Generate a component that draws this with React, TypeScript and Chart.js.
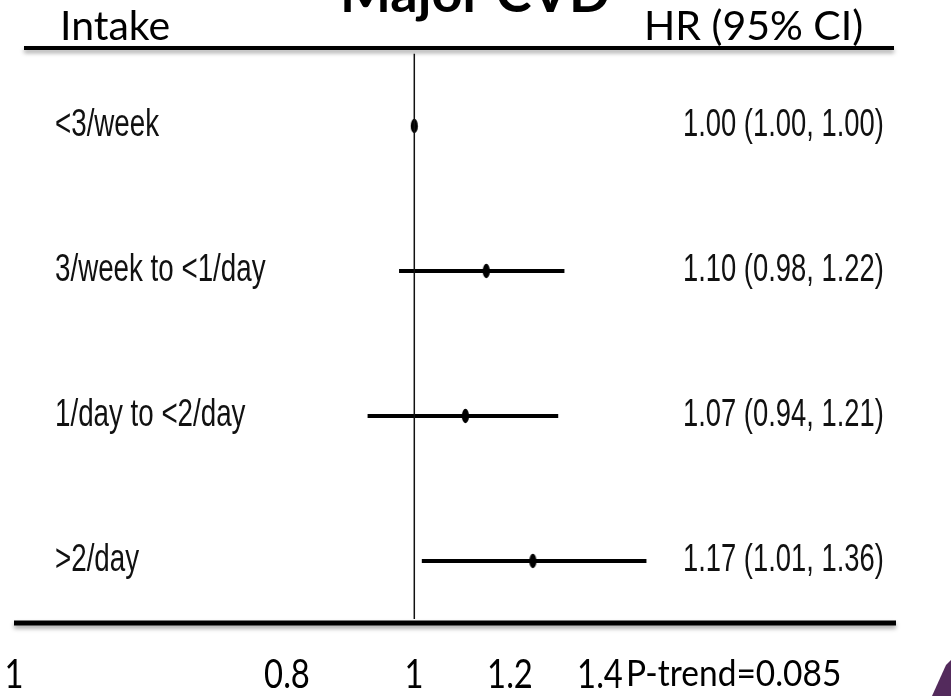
import React, { useEffect, useRef } from "react";
import { Chart, registerables } from "chart.js";

Chart.register(...registerables);

// ---- data ----
const title = "Major CVD";
const leftHeader = "Intake";
const rightHeader = "HR (95% CI)";
const categories = ["<3/week", "3/week to <1/day", "1/day to <2/day", ">2/day"];
const hr = [1.0, 1.1, 1.07, 1.17];
const ciLow = [1.0, 0.98, 0.94, 1.01];
const ciHigh = [1.0, 1.22, 1.21, 1.36];
const bottomTickLabels = ["1", "0.8", "1", "1.2", "1.4"];
const pTrendLabel = "P-trend=0.085";

// ---- layout (pixels) ----
const W = 951;
const H = 696;
const X_MIN = 0.6;
const X_MAX = 1.9;
const REF_PX = 414.3; // pixel of HR = 1
const PX_PER_LN = 755;
const ROW0_PX = 126;
const ROW_STEP = 145;
const Y_MIN = -0.5;
const Y_MAX = 3.4;
const bottomTickX = [14, 287, 414, 510, 600];

const padLeft = REF_PX + PX_PER_LN * Math.log(X_MIN);
const padRight = W - (REF_PX + PX_PER_LN * Math.log(X_MAX));
const padTop = ROW0_PX + Y_MIN * ROW_STEP;
const padBottom = H - (ROW0_PX + Y_MAX * ROW_STEP);

const ARIAL = "'Liberation Sans', Arial, sans-serif";
const CAL = "Lato, 'Open Sans', sans-serif";

function fmt(v: number) {
  return v.toFixed(2);
}

function makeDiamond(): HTMLCanvasElement {
  const c = document.createElement("canvas");
  c.width = 9;
  c.height = 16;
  const g = c.getContext("2d")!;
  g.fillStyle = "#000";
  g.beginPath();
  g.ellipse(4.5, 8, 3.6, 7.2, 0, 0, Math.PI * 2);
  g.fill();
  return c;
}

function scaledText(ctx: CanvasRenderingContext2D, text: string, x: number, y: number, sx: number) {
  ctx.save();
  ctx.translate(x, y);
  ctx.scale(sx, 1);
  ctx.fillText(text, 0, 0);
  ctx.restore();
}

const decorPlugin = {
  id: "forestDecor",
  afterDraw(chart: any) {
    const ctx = chart.ctx as CanvasRenderingContext2D;
    const ys = chart.scales.y;
    ctx.save();

    // rules with soft shadow
    ctx.shadowColor = "rgba(0,0,0,0.35)";
    ctx.shadowBlur = 4;
    ctx.shadowOffsetY = 3;
    ctx.strokeStyle = "#000";
    ctx.lineWidth = 4;
    ctx.beginPath();
    ctx.moveTo(24, 48);
    ctx.lineTo(894, 48);
    ctx.stroke();
    ctx.lineWidth = 5;
    ctx.beginPath();
    ctx.moveTo(14, 623);
    ctx.lineTo(896, 623);
    ctx.stroke();
    ctx.shadowColor = "transparent";
    ctx.shadowBlur = 0;
    ctx.shadowOffsetY = 0;

    // title (clipped at top)
    ctx.fillStyle = "#000";
    ctx.textBaseline = "alphabetic";
    ctx.textAlign = "center";
    ctx.font = `bold 54px ${CAL}`;
    ctx.fillText(title, 475, 12);

    // headers
    ctx.textAlign = "left";
    ctx.font = `41px ${CAL}`;
    ctx.fillText(leftHeader, 60, 40);
    ctx.fillText(rightHeader, 644, 40);

    // row labels & HR text (condensed sans)
    ctx.textBaseline = "middle";
    ctx.fillStyle = "#111";
    ctx.font = `38px ${ARIAL}`;
    categories.forEach((c, i) => {
      const y = ys.getPixelForValue(i);
      scaledText(ctx, c, 55, y, 0.73);
      scaledText(ctx, `${fmt(hr[i])} (${fmt(ciLow[i])}, ${fmt(ciHigh[i])})`, 683, y, 0.72);
    });

    // bottom labels
    ctx.fillStyle = "#000";
    ctx.textBaseline = "alphabetic";
    ctx.textAlign = "center";
    ctx.font = `41px ${CAL}`;
    bottomTickLabels.forEach((t, i) => {
      scaledText(ctx, t, bottomTickX[i], 688, 0.8);
    });
    ctx.textAlign = "left";
    ctx.font = `36px ${CAL}`;
    scaledText(ctx, pTrendLabel, 626, 686, 0.93);

    // corner decoration
    ctx.fillStyle = "#532a5c";
    ctx.beginPath();
    ctx.moveTo(932, H);
    ctx.lineTo(946, 665);
    ctx.lineTo(951, 660);
    ctx.lineTo(951, H);
    ctx.closePath();
    ctx.fill();

    ctx.restore();
  },
};

export default function App() {
  const ref = useRef<HTMLCanvasElement | null>(null);

  useEffect(() => {
    if (!ref.current) return;
    const marker = makeDiamond();
    const ciSets = categories.map((c, i) => ({
      type: "scatter" as const,
      label: c,
      data: [
        { x: ciLow[i], y: i },
        { x: ciHigh[i], y: i },
      ],
      showLine: true,
      borderColor: "#000",
      borderWidth: 4,
      pointRadius: 0,
    }));
    const chart = new Chart(ref.current, {
      type: "scatter",
      data: {
        datasets: [
          {
            label: "ref",
            data: [
              { x: 1, y: Y_MIN },
              { x: 1, y: Y_MAX },
            ],
            showLine: true,
            borderColor: "#111",
            borderWidth: 1.5,
            pointRadius: 0,
          },
          ...ciSets,
          {
            label: "HR",
            data: hr.map((v, i) => ({ x: v, y: i })),
            pointStyle: marker as any,
            pointRadius: 6,
            showLine: false,
          },
        ] as any,
      },
      options: {
        animation: false,
        responsive: false,
        events: [],
        layout: {
          padding: { left: padLeft, right: padRight, top: padTop, bottom: padBottom },
        },
        plugins: { legend: { display: false }, tooltip: { enabled: false }, title: { display: false } },
        scales: {
          x: { type: "logarithmic", min: X_MIN, max: X_MAX, display: false },
          y: { type: "linear", min: Y_MIN, max: Y_MAX, reverse: true, display: false },
        },
      },
      plugins: [decorPlugin],
    });
    return () => chart.destroy();
  }, []);

  return (
    <div style={{ position: "fixed", left: 0, top: 0, width: W, height: H, background: "#fff" }}>
      <canvas ref={ref} width={W} height={H} style={{ width: W, height: H, display: "block" }} />
    </div>
  );
}
